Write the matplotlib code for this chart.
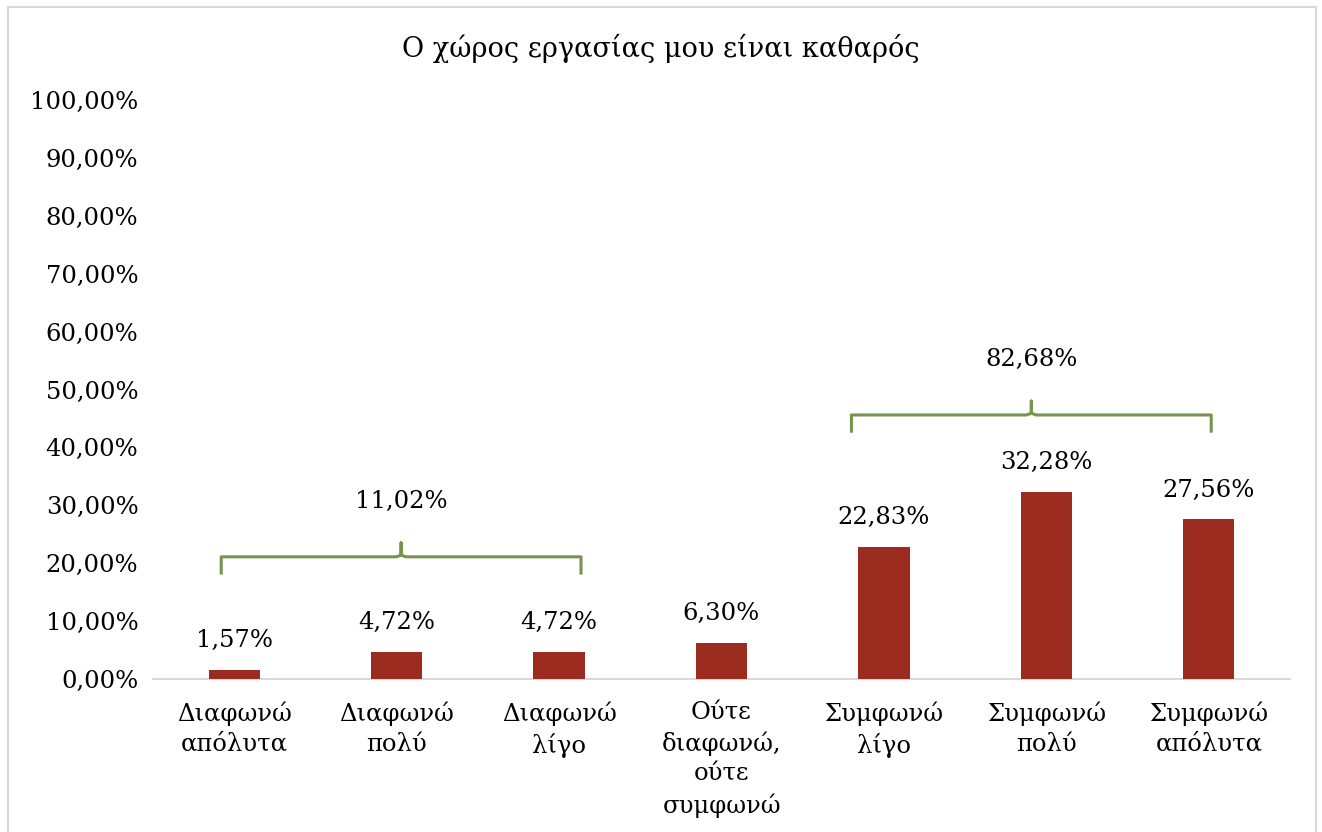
import matplotlib
matplotlib.use("Agg")
import matplotlib.pyplot as plt
from matplotlib.patches import Rectangle

# ---- data ----
categories = ["Διαφωνώ\nαπόλυτα", "Διαφωνώ\nπολύ", "Διαφωνώ\nλίγο",
              "Ούτε\nδιαφωνώ,\nούτε\nσυμφωνώ", "Συμφωνώ\nλίγο", "Συμφωνώ\nπολύ",
              "Συμφωνώ\nαπόλυτα"]
values = [1.57, 4.72, 4.72, 6.30, 22.83, 32.28, 27.56]
group_labels = ["11,02%", "82,68%"]
brace_spans = [(-0.08, 2.135), (3.80, 6.015)]
brace_levels = [21.1, 45.6]
yticks = [0, 10, 20, 30, 40, 50, 60, 70, 80, 90, 100]
title = "Ο χώρος εργασίας μου είναι καθαρός"

FONT = "DejaVu Serif"
plt.rcParams['font.family'] = [FONT]
FS = 17.5

W, H = 1322, 832
fig = plt.figure(figsize=(W / 100, H / 100), dpi=100)
ax = fig.add_axes([153 / W, 1 - 679 / H, (1290 - 153) / W, (679 - 100) / H])

bar_color = "#9C2B20"
x = list(range(len(values)))
ax.bar(x, values, width=0.315, color=bar_color, zorder=3)

ax.set_xlim(-0.5, len(values) - 0.5)
ax.set_ylim(0, 100)
ax.set_yticks(yticks)
ax.set_yticklabels([f"{v:.2f}".replace(".", ",") + "%" for v in yticks])
ax.set_xticks(x)
ax.set_xticklabels(categories, linespacing=1.38)
ax.tick_params(axis='both', length=0, labelsize=FS, colors="#000000")
ax.tick_params(axis='y', pad=10.5)
ax.tick_params(axis='x', pad=16)

for s in ["top", "right", "left"]:
    ax.spines[s].set_visible(False)
ax.spines["bottom"].set_color("#D9D9D9")
ax.spines["bottom"].set_linewidth(1.5)

for xi, v in zip(x, values):
    ax.annotate(f"{v:.2f}".replace(".", ",") + "%", (xi, v), xytext=(0, 21),
                textcoords="offset points", ha="center", va="center", fontsize=FS)

# braces for groups
brace_color = "#77934F"
def brace(x0, x1, y, label):
    xm = (x0 + x1) / 2
    h = 2.8
    tip = 2.4
    ax.plot([x0, x0, xm - 0.03, xm, xm, xm, xm + 0.03, x1, x1],
            [y - h, y, y, y + 0.3, y + tip, y + 0.3, y, y, y - h],
            color=brace_color, lw=2.2, solid_joinstyle="round", zorder=4,
            clip_on=False)
    ax.text(xm, y + 9.6, label, ha="center", va="center", fontsize=FS)

for (a, b), yl, lab in zip(brace_spans, brace_levels, group_labels):
    brace(a, b, yl, lab)

fig.text(0.5, 1 - 48 / H, title, ha="center", va="center", fontsize=19.5)

fig.add_artist(Rectangle((8 / W, -0.02), (1316 - 8) / W, 1 - 7 / H + 0.02,
                         transform=fig.transFigure, fill=False,
                         edgecolor="#D9D9D9", lw=1.5))

fig.savefig("out.png", dpi=100, facecolor="white")
